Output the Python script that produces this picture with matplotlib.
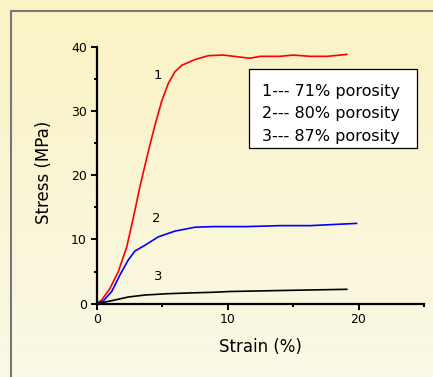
import matplotlib
matplotlib.use("Agg")
import matplotlib.pyplot as plt
import numpy as np
from matplotlib.patches import Rectangle

# Stress-strain curves (strain %, stress MPa)
strain_1 = [0, 0.38, 1.02, 1.65, 2.29, 2.8, 3.31, 3.94, 4.45, 4.96, 5.47, 5.98, 6.49,
            7.5, 8.52, 9.67, 10.9, 11.7, 12.5, 14.0, 15.0, 16.3, 17.6, 19.1]
stress_1 = [0, 0.58, 2.4, 5.0, 8.8, 13.4, 18.3, 23.7, 27.8, 31.5, 34.3, 36.1, 37.1,
            38.0, 38.6, 38.7, 38.4, 38.2, 38.5, 38.5, 38.7, 38.5, 38.5, 38.8]

strain_2 = [0, 0.5, 1.15, 1.78, 2.41, 2.92, 3.69, 4.7, 5.98, 7.5, 8.9, 11.45, 14.0, 16.3, 19.85]
stress_2 = [0, 0.42, 1.9, 4.5, 6.8, 8.2, 9.1, 10.4, 11.3, 11.9, 12.0, 12.0, 12.15, 12.15, 12.5]

strain_3 = [0, 1.15, 2.41, 3.69, 5.47, 7.5, 8.9, 10.2, 14.0, 19.1]
stress_3 = [0, 0.47, 1.04, 1.35, 1.56, 1.7, 1.78, 1.9, 2.05, 2.24]

curve_labels = ["1", "2", "3"]
label_x = [4.65, 4.58, 4.7]
label_y = [35.5, 13.3, 4.2]

legend_lines = ["1--- 71% porosity", "2--- 80% porosity", "3--- 87% porosity"]

W, H = 433, 377
fig = plt.figure(figsize=(W / 100, H / 100), dpi=100)

# slide-like pale yellow background with a grey frame
bg = fig.add_axes([0, 0, 1, 1])
grad = np.linspace(0, 1, 100)[:, None]
top_col = np.array([250, 243, 196]) / 255
bot_col = np.array([250, 248, 230]) / 255
img = top_col * (1 - grad[..., None]) + bot_col * grad[..., None]
bg.imshow(np.repeat(img, 2, axis=1), aspect="auto", extent=[0, 1, 0, 1])
bg.set_xlim(0, 1)
bg.set_ylim(0, 1)
bg.axis("off")
bg.plot([11 / W, 11 / W, 1], [0, 1 - 11 / H, 1 - 11 / H], color="#777777", lw=1.5)

ax = fig.add_axes([96.7 / W, 1 - 303.7 / H, 327.3 / W, 257 / H])
ax.patch.set_alpha(0)

ax.plot(strain_1, stress_1, color="red", lw=1.2)
ax.plot(strain_2, stress_2, color="blue", lw=1.2)
ax.plot(strain_3, stress_3, color="black", lw=1.2)

for lab, lx, ly in zip(curve_labels, label_x, label_y):
    ax.text(lx, ly, lab, fontsize=9.5, ha="center", va="center")

ax.set_xlim(0, 25)
ax.set_ylim(0, 40)
ax.set_xticks([0, 10, 20])
ax.set_xticks([5, 15, 25], minor=True)
ax.set_yticks([0, 10, 20, 30, 40])
ax.set_yticks([5, 15, 25, 35], minor=True)
for s in ["top", "right"]:
    ax.spines[s].set_visible(False)
for s in ["left", "bottom"]:
    ax.spines[s].set_linewidth(1.6)
ax.tick_params(which="major", direction="out", length=4.5, width=1.4, labelsize=9, pad=2.5)
ax.tick_params(which="minor", direction="out", length=2.3, width=1.4)

ax.set_xlabel("Strain (%)", fontsize=12)
ax.xaxis.set_label_coords(0.501, -0.135)
ax.set_ylabel("Stress (MPa)", fontsize=12)
ax.yaxis.set_label_coords(-0.135, 0.51)

ax.add_patch(Rectangle((0.466, 0.605), 0.512, 0.308, transform=ax.transAxes,
                       facecolor="white", edgecolor="black", lw=0.9, zorder=5))
for txt, yy in zip(legend_lines, [0.825, 0.741, 0.650]):
    ax.text(0.504, yy, txt, transform=ax.transAxes, fontsize=11.5, ha="left",
            va="center", zorder=6)

fig.savefig("out.png", dpi=100)
